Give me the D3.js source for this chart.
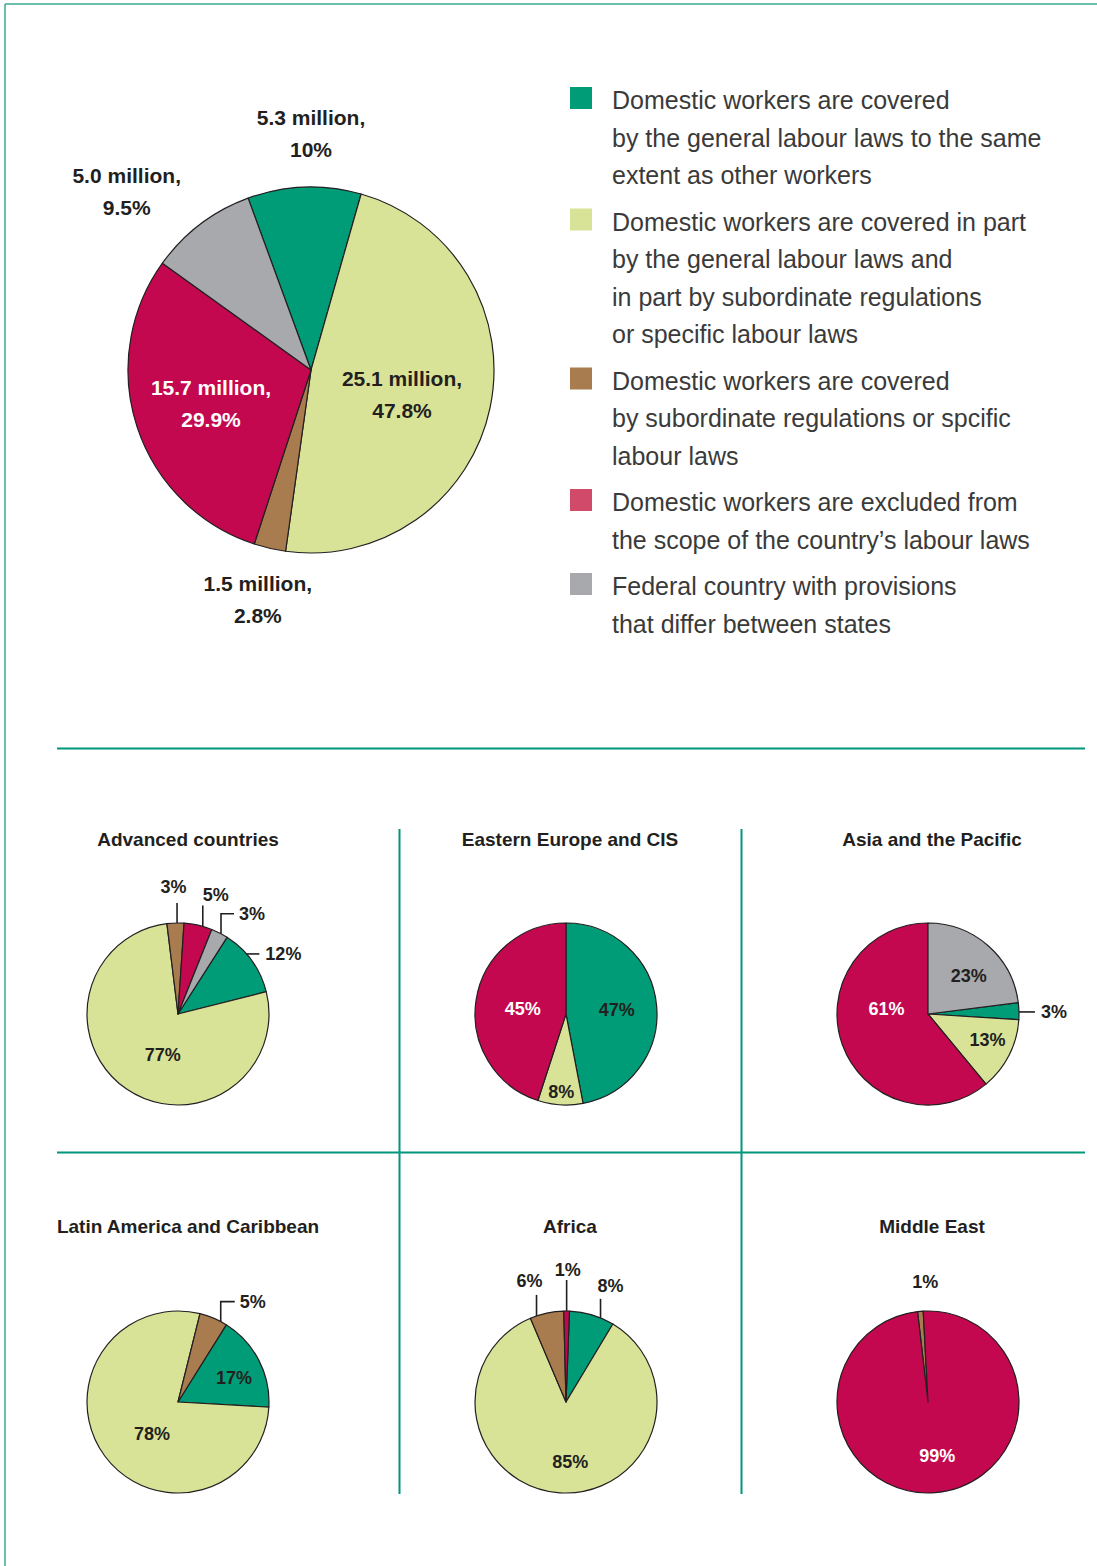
<!DOCTYPE html>
<html><head><meta charset="utf-8">
<script src="https://cdn.jsdelivr.net/npm/d3@7"></script>
<style>body{margin:0;background:#fff}svg{display:block}</style>
</head><body>
<svg id="c" width="1097" height="1566"></svg>
<script>
// ---------- DATA ----------
const categoryKeys = ["same", "part", "subordinate", "excluded", "federal"];
const legendLines = [
  ["Domestic workers are covered", "by the general labour laws to the same", "extent as other workers"],
  ["Domestic workers are covered in part", "by the general labour laws and", "in part by subordinate regulations", "or specific labour laws"],
  ["Domestic workers are covered", "by subordinate regulations or spcific", "labour laws"],
  ["Domestic workers are excluded from", "the scope of the country\u2019s labour laws"],
  ["Federal country with provisions", "that differ between states"]
];
const mainMillions = [5.3, 25.1, 1.5, 15.7, 5.0];
const mainPercent = [10, 47.8, 2.8, 29.9, 9.5];
const regionNames = ["Advanced countries", "Eastern Europe and CIS", "Asia and the Pacific",
                     "Latin America and Caribbean", "Africa", "Middle East"];
const regionPercent = [
  [12, 77, 3, 5, 3],
  [47, 8, 0, 45, 0],
  [3, 13, 0, 61, 23],
  [17, 78, 5, 0, 0],
  [8, 85, 6, 1, 0],
  [0, 0, 1, 99, 0]
];

// ---------- STYLE / LAYOUT ----------
const sliceColors = ["#009b77", "#d9e397", "#a97c50", "#c4084f", "#a7a9ac"];
const legendColors = ["#009b77", "#d9e397", "#a97c50", "#d24a6a", "#a7a9ac"];
const teal = "#00967a";
const ink = "#231f20";
const labelFont = "'Liberation Sans', Arial, sans-serif";
const rad = d => d * Math.PI / 180;

const svg = d3.select("#c");

// frame
svg.append("line").attr("x1", 5).attr("x2", 1097).attr("y1", 4).attr("y2", 4)
  .attr("stroke", "#3aaa8f").attr("stroke-width", 1.5);
svg.append("line").attr("x1", 5).attr("x2", 5).attr("y1", 4).attr("y2", 1566)
  .attr("stroke", "#3aaa8f").attr("stroke-width", 1.5);

// dividers
svg.append("line").attr("x1", 57).attr("x2", 1085).attr("y1", 748.5).attr("y2", 748.5).attr("stroke", teal).attr("stroke-width", 2);
svg.append("line").attr("x1", 57).attr("x2", 1085).attr("y1", 1152.5).attr("y2", 1152.5).attr("stroke", teal).attr("stroke-width", 2);
svg.append("line").attr("x1", 399.5).attr("x2", 399.5).attr("y1", 829).attr("y2", 1494).attr("stroke", teal).attr("stroke-width", 2);
svg.append("line").attr("x1", 741.5).attr("x2", 741.5).attr("y1", 829).attr("y2", 1494).attr("stroke", teal).attr("stroke-width", 2);

function polar(cx, cy, r, deg) {
  return [cx + r * Math.sin(rad(deg)), cy - r * Math.cos(rad(deg))];
}

function drawPie(values, cx, cy, r, startDeg) {
  const pie = d3.pie().sort(null).value(v => v)
    .startAngle(rad(startDeg)).endAngle(rad(startDeg) + 2 * Math.PI);
  const arcs = pie(values).map((a, i) => Object.assign(a, {cat: i}));
  const arc = d3.arc().innerRadius(0).outerRadius(r);
  const g = svg.append("g").attr("transform", `translate(${cx},${cy})`);
  g.selectAll("path").data(arcs.filter(a => a.value > 0)).join("path")
    .attr("d", arc).attr("fill", a => sliceColors[a.cat])
    .attr("stroke", ink).attr("stroke-width", 1.2).attr("stroke-linejoin", "round");
  return arcs;
}
const midDeg = a => ((a.startAngle + a.endAngle) / 2) * 180 / Math.PI;

// ---------- MAIN PIE ----------
const main = {cx: 311, cy: 370, r: 183, start: -20.1};
const mainArcs = drawPie(mainPercent, main.cx, main.cy, main.r, main.start);
const mainLabelPos = [ // per category: angle offset (deg) and radius factor
  {da: 2.1, f: 1.29}, {da: 3.5, f: 0.516}, {da: 0, f: 1.29}, {da: -0.6, f: 0.577}, {da: -8.8, f: 1.40}
];
mainArcs.forEach((a, i) => {
  const p = mainLabelPos[i];
  const [x, y] = polar(main.cx, main.cy, main.r * p.f, midDeg(a) + p.da);
  const t = svg.append("text").attr("x", x).attr("y", y)
    .attr("text-anchor", "middle").attr("font-family", labelFont)
    .attr("font-weight", "bold").attr("font-size", 21)
    .attr("fill", i === 3 ? "#fff" : ink);
  t.append("tspan").attr("x", x).attr("dy", "-0.42em").text(`${mainMillions[i].toFixed(1)} million,`);
  t.append("tspan").attr("x", x).attr("dy", "1.52em").text(`${mainPercent[i]}%`);
});

// ---------- LEGEND ----------
let base = 109;
legendLines.forEach((lines, i) => {
  svg.append("rect").attr("x", 570).attr("y", base - 22).attr("width", 22).attr("height", 22)
    .attr("fill", legendColors[i]);
  lines.forEach((ln, j) => {
    svg.append("text").attr("x", 612).attr("y", base + j * 37.5)
      .attr("font-family", "'Liberation Sans', Arial, sans-serif").attr("font-size", 25)
      .attr("fill", "#3a3a3a").text(ln);
  });
  base += (lines.length - 1) * 37.5 + 46.5;
});

// ---------- REGIONAL PIES ----------
const colX = [178, 566, 928];
const rowY = [1014, 1402];
const titleX = [188, 570, 932];
const titleY = [839, 1226];
const smallR = 91;
const regionStart = [32.6, 0, 82.8, 32, 2.2, -6.6];
// label layout per region per category
const regionLabelLayout = [
  [{k: "right", da: -5.5, len: 13}, {k: "in", da: -14, f: 0.48}, {k: "up", da: 1, len: 20, tx: -3.5, ty: 16},
   {k: "up", da: 3, len: 21, tx: 13, ty: 11}, {k: "elbow", da: 1, len: 20, w: 13}],
  [{k: "in", da: 0, f: 0.56}, {k: "in", da: 0, f: 0.85}, null, {k: "in", da: -2, f: 0.48}, null],
  [{k: "right", da: 0.5, len: 16}, {k: "in", da: -4, f: 0.71}, null, {k: "in", da: 27, f: 0.46}, {k: "in", da: 5, f: 0.62}],
  [{k: "in", da: 4, f: 0.67}, {k: "in", da: -14, f: 0.45}, {k: "elbow", da: 5, len: 20, w: 14}, null, null],
  [{k: "up", da: 5.7, len: 19, tx: 10, ty: 13}, {k: "in", da: -8, f: 0.66}, {k: "up", da: -6.7, len: 21, tx: -7, ty: 14},
   {k: "up", da: 0, len: 31, tx: 1, ty: 10}, null],
  [null, null, {k: "in", da: 3.5, f: 1.32}, {k: "in", da: -5, f: 0.6}, null]
];

function addLabel(x, y, txt, anchor, color) {
  svg.append("text").attr("x", x).attr("y", y).attr("dy", "0.36em")
    .attr("text-anchor", anchor).attr("font-family", labelFont)
    .attr("font-weight", "bold").attr("font-size", 18).attr("fill", color).text(txt);
}
function leader(pts) {
  svg.append("path").attr("d", d3.line()(pts)).attr("fill", "none")
    .attr("stroke", ink).attr("stroke-width", 1.6);
}

regionNames.forEach((name, ri) => {
  const cx = colX[ri % 3], cy = rowY[Math.floor(ri / 3)];
  svg.append("text").attr("x", titleX[ri % 3]).attr("y", titleY[Math.floor(ri / 3)]).attr("dy", "0.36em")
    .attr("text-anchor", "middle").attr("font-family", labelFont).attr("font-weight", "bold")
    .attr("font-size", 19).attr("fill", ink).text(name);
  const arcs = drawPie(regionPercent[ri], cx, cy, smallR, regionStart[ri]);
  arcs.forEach((a, ci) => {
    const L = regionLabelLayout[ri][ci];
    if (!L || a.value <= 0) return;
    const txt = `${regionPercent[ri][ci]}%`;
    const ang = midDeg(a) + L.da;
    if (L.k === "in") {
      const [x, y] = polar(cx, cy, smallR * L.f, ang);
      const col = (ci === 3 && L.f < 1) ? "#fff" : ink;
      addLabel(x, y, txt, "middle", col);
    } else {
      const [ex, ey] = polar(cx, cy, smallR, ang);
      if (L.k === "up") {
        leader([[ex, ey], [ex, ey - L.len]]);
        addLabel(ex + L.tx, ey - L.len - L.ty, txt, "middle", ink);
      } else if (L.k === "elbow") {
        leader([[ex, ey], [ex, ey - L.len], [ex + L.w, ey - L.len]]);
        addLabel(ex + L.w + 5, ey - L.len, txt, "start", ink);
      } else if (L.k === "right") {
        leader([[ex, ey], [ex + L.len, ey]]);
        addLabel(ex + L.len + 6, ey, txt, "start", ink);
      }
    }
  });
});
</script>
</body></html>
